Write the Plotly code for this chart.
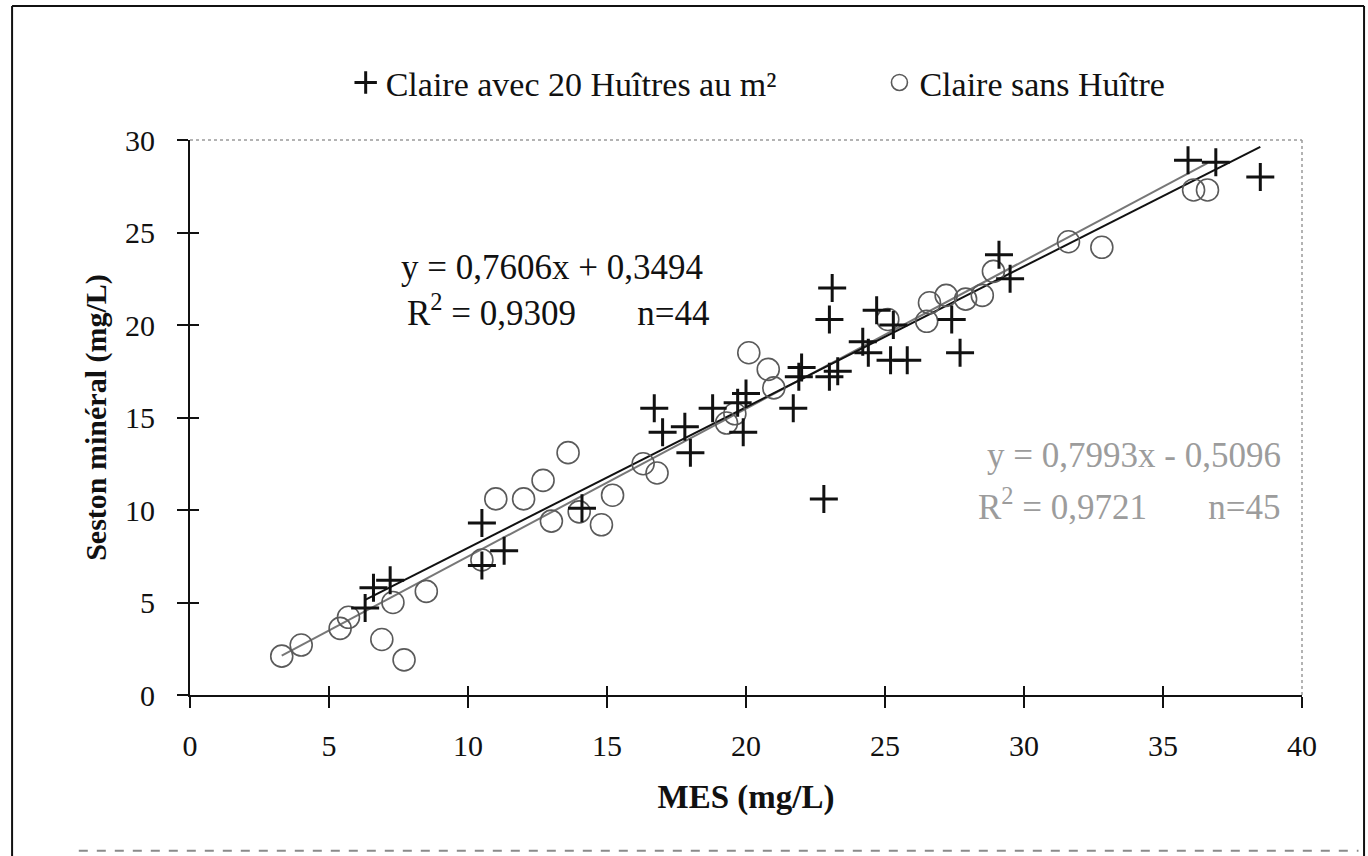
import plotly.graph_objects as go
import numpy as np

# --- data ---
avec_x = [6.3, 6.6, 7.2, 10.5, 10.5, 11.3, 14.1, 16.7, 17.0, 17.8, 18.0, 18.8, 19.7, 20.0, 19.9,
          21.7, 22.0, 21.9, 22.8, 23.1, 23.0, 23.0, 23.3, 24.7, 24.2, 24.4, 25.2, 25.8, 25.3,
          27.4, 27.7, 29.1, 29.5, 35.9, 36.9, 38.5]
avec_y = [4.7, 5.8, 6.2, 9.3, 7.0, 7.8, 10.1, 15.5, 14.2, 14.5, 13.1, 15.5, 15.8, 16.3, 14.2,
          15.5, 17.7, 17.2, 10.6, 22.0, 20.3, 17.2, 17.5, 20.8, 19.1, 18.5, 18.1, 18.1, 20.0,
          20.3, 18.5, 23.8, 22.5, 28.9, 28.8, 28.0]

sans_x = [3.3, 4.0, 5.4, 5.7, 6.9, 7.7, 7.3, 8.5, 10.5, 11.0, 12.0, 12.7, 13.6, 13.0, 14.0,
          14.8, 15.2, 16.3, 16.8, 19.3, 19.6, 20.1, 20.8, 21.0, 25.1, 26.5, 26.6, 27.2, 27.9,
          28.5, 28.9, 31.6, 32.8, 36.1, 36.6]
sans_y = [2.1, 2.7, 3.6, 4.2, 3.0, 1.9, 5.0, 5.6, 7.3, 10.6, 10.6, 11.6, 13.1, 9.4, 9.9,
          9.2, 10.8, 12.5, 12.0, 14.7, 15.2, 18.5, 17.6, 16.6, 20.3, 20.2, 21.2, 21.6, 21.4,
          21.6, 22.9, 24.5, 24.2, 27.3, 27.3]

# regression coefficients printed on the chart
fit_avec = [0.7606, 0.3494]
fit_sans = [0.7993, -0.5096]

x_ticks = [0, 5, 10, 15, 20, 25, 30, 35, 40]
y_ticks = [0, 5, 10, 15, 20, 25, 30]

SERIF = "Liberation Serif"
INK = "#111111"
GREY_TXT = "#9c9c9c"

fig = go.Figure()

# trend lines
xa = np.array([min(avec_x), max(avec_x)])
xs = np.array([min(sans_x), max(sans_x)])
fig.add_trace(go.Scatter(x=xs, y=fit_sans[0] * xs + fit_sans[1], mode="lines",
                         line=dict(color="#777777", width=2), showlegend=False, hoverinfo="skip"))
fig.add_trace(go.Scatter(x=xa, y=fit_avec[0] * xa + fit_avec[1], mode="lines",
                         line=dict(color=INK, width=2), showlegend=False, hoverinfo="skip"))

fig.add_trace(go.Scatter(x=sans_x, y=sans_y, mode="markers", name="Claire sans Huître",
                         legend="legend2",
                         marker=dict(symbol="circle-open", size=22, color="#5a5a5a",
                                     line=dict(width=1.6, color="#5a5a5a"))))
fig.add_trace(go.Scatter(x=avec_x, y=avec_y, mode="markers", name="Claire avec 20 Huîtres au m²",
                         legend="legend",
                         marker=dict(symbol="cross-thin-open", size=20, color=INK,
                                     line=dict(width=3, color=INK))))

# dummy trace for the overlay axes (inside ticks, so ticks cross the axis lines)
fig.add_trace(go.Scatter(x=[None], y=[None], xaxis="x2", yaxis="y2", showlegend=False, hoverinfo="skip"))

fig.update_layout(
    width=1368, height=856,
    margin=dict(l=190, r=66, t=140, b=161),
    paper_bgcolor="white", plot_bgcolor="white",
    font=dict(family=SERIF, size=30, color=INK),
    showlegend=True,
    legend=dict(orientation="h", x=0.14, xanchor="left", y=1.103, yanchor="middle",
                font=dict(family=SERIF, size=34, color=INK), bgcolor="rgba(0,0,0,0)"),
    legend2=dict(orientation="h", x=0.62, xanchor="left", y=1.103, yanchor="middle",
                 font=dict(family=SERIF, size=34, color=INK), bgcolor="rgba(0,0,0,0)"),
    xaxis=dict(range=[0, 40], tickvals=x_ticks, showgrid=False, zeroline=False,
               showline=True, linecolor=INK, linewidth=2,
               ticks="outside", ticklen=11, tickwidth=2, tickcolor=INK,
               ticklabelstandoff=12,
               tickfont=dict(family=SERIF, size=30, color=INK),
               title=dict(text="<b>MES (mg/L)</b>", standoff=24,
                          font=dict(family=SERIF, size=33, color=INK))),
    yaxis=dict(range=[0, 30], tickvals=y_ticks, showgrid=False, zeroline=False,
               showline=True, linecolor=INK, linewidth=2,
               ticks="outside", ticklen=11, tickwidth=2, tickcolor=INK,
               ticklabelstandoff=16,
               tickfont=dict(family=SERIF, size=30, color=INK),
               title=dict(text="<b>Seston minéral (mg/L)</b>", standoff=10,
                          font=dict(family=SERIF, size=30, color=INK))),
    xaxis2=dict(range=[0, 40], tickvals=x_ticks, overlaying="x", side="bottom",
                showgrid=False, zeroline=False, showline=False, showticklabels=False,
                ticks="inside", ticklen=9, tickwidth=2, tickcolor=INK, anchor="y2"),
    yaxis2=dict(range=[0, 30], tickvals=y_ticks, overlaying="y", side="left",
                showgrid=False, zeroline=False, showline=False, showticklabels=False,
                ticks="inside", ticklen=9, tickwidth=2, tickcolor=INK, anchor="x2"),
)

# dotted top and right frame of plot area
fig.add_shape(type="line", xref="x domain", yref="y domain", x0=0, x1=1, y0=1, y1=1,
              line=dict(color="#9a9a9a", width=1.5, dash="dot"))
fig.add_shape(type="line", xref="x domain", yref="y domain", x0=1, x1=1, y0=0, y1=1,
              line=dict(color="#9a9a9a", width=1.5, dash="dot"))

# outer border of the figure
BL, BR, BT, BB = -0.160, 1.0558, 1.2414, -0.32
fig.add_shape(type="line", xref="paper", yref="paper", x0=BL, x1=BL, y0=BB, y1=BT,
              line=dict(color=INK, width=2))
fig.add_shape(type="line", xref="paper", yref="paper", x0=BL, x1=BR, y0=BT, y1=BT,
              line=dict(color=INK, width=2))
fig.add_shape(type="line", xref="paper", yref="paper", x0=BR, x1=BR, y0=BB, y1=BT,
              line=dict(color=INK, width=2))
# faint broken line along the bottom edge of the scan
fig.add_shape(type="line", xref="paper", yref="paper", x0=BL + 0.06, x1=BR - 0.005, y0=-0.2805, y1=-0.2805,
              line=dict(color="#8a8a8a", width=2, dash="dash"))

# regression equations
fig.add_annotation(x=7.5, y=23.1, xref="x", yref="y", xanchor="left", yanchor="middle",
                   text="y = 0,7606x + 0,3494", showarrow=False,
                   font=dict(family=SERIF, size=35, color=INK))
fig.add_annotation(x=7.75, y=20.8, xref="x", yref="y", xanchor="left", yanchor="middle",
                   text="R<sup>2</sup> = 0,9309       n=44", showarrow=False,
                   font=dict(family=SERIF, size=35, color=INK))
fig.add_annotation(x=39.3, y=12.95, xref="x", yref="y", xanchor="right", yanchor="middle",
                   text="y = 0,7993x - 0,5096", showarrow=False,
                   font=dict(family=SERIF, size=35, color=GREY_TXT))
fig.add_annotation(x=39.3, y=10.3, xref="x", yref="y", xanchor="right", yanchor="middle",
                   text="R<sup>2</sup> = 0,9721       n=45", showarrow=False,
                   font=dict(family=SERIF, size=35, color=GREY_TXT))

fig.write_html("out.html")
